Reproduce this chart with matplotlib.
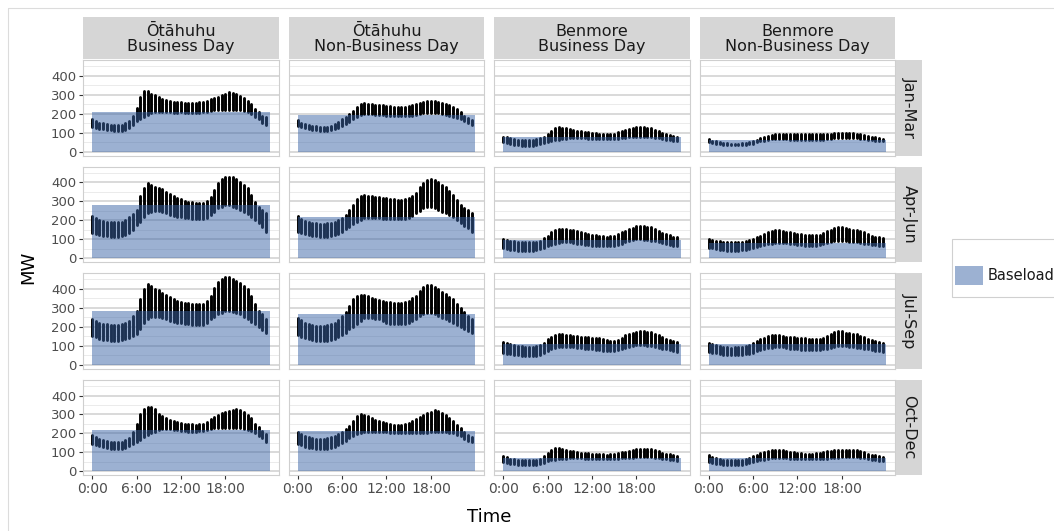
import matplotlib
matplotlib.use('Agg')
import matplotlib.pyplot as plt
from matplotlib.patches import Rectangle
from matplotlib.transforms import Affine2D
import numpy as np

W, H = 1054, 531

# ---- labels ----
sites = ['Ōtāhuhu', 'Benmore']
day_types = ['Business Day', 'Non-Business Day']
quarters = ['Jan-Mar', 'Apr-Jun', 'Jul-Sep', 'Oct-Dec']
hours = np.arange(48) / 2.0          # half-hourly trading periods
x_ticks = [0, 6, 12, 18]
x_tick_labels = ['0:00', '6:00', '12:00', '18:00']
y_ticks = [0, 100, 200, 300, 400]
y_minor = [50, 150, 250, 350, 450]

# ---- baseload (MW) per quarter ----
baseload_ota_bd = [210, 282, 285, 218]
baseload_ota_nbd = [195, 215, 266, 211]
baseload_ben_bd = [74, 97, 111, 70]
baseload_ben_nbd = [62, 79, 107, 70]

# ---- half-hourly demand envelope (min / max over days), MW ----
ota_bd_q1_hi = [171, 160, 153, 148, 144, 141, 139, 139, 141, 148, 162, 185, 232, 289, 317, 320, 306, 299, 289, 276, 271, 266, 262, 260,
                259, 258, 258, 257, 257, 259, 262, 268, 275, 282, 289, 296, 303, 313, 310, 303, 294, 285, 268, 250, 224, 206, 188, 180]
ota_bd_q1_lo = [127, 124, 121, 117, 113, 111, 109, 109, 109, 112, 123, 140, 162, 171, 183, 194, 201, 206, 210, 208, 207, 206, 205, 205,
                206, 204, 202, 202, 201, 203, 206, 211, 215, 217, 218, 219, 220, 220, 220, 219, 218, 214, 206, 200, 183, 171, 153, 139]
ota_nbd_q1_hi = [165, 153, 144, 140, 136, 133, 130, 130, 132, 137, 144, 155, 169, 184, 199, 216, 234, 250, 254, 253, 250, 248, 245, 243,
                 241, 239, 236, 236, 236, 237, 239, 244, 250, 256, 262, 266, 268, 268, 262, 256, 250, 243, 236, 222, 206, 190, 176, 165]
ota_nbd_q1_lo = [136, 129, 123, 119, 116, 112, 109, 109, 109, 112, 118, 126, 136, 147, 158, 170, 183, 194, 197, 197, 197, 195, 194, 191,
                 188, 186, 185, 185, 185, 186, 186, 190, 194, 198, 201, 202, 202, 202, 201, 198, 194, 188, 183, 178, 174, 162, 153, 139]
ben_bd_q1_hi = [79, 74, 69, 66, 63, 61, 60, 60, 62, 65, 69, 78, 92, 109, 123, 127, 125, 122, 118, 113, 109, 106, 104, 101,
                99, 97, 95, 93, 92, 93, 95, 102, 109, 114, 118, 123, 127, 130, 129, 126, 123, 115, 106, 99, 92, 87, 83, 79]
ben_bd_q1_lo = [48, 43, 39, 36, 33, 31, 30, 30, 31, 35, 39, 44, 48, 54, 60, 63, 65, 67, 69, 69, 69, 69, 69, 67,
                65, 65, 65, 65, 65, 65, 65, 67, 70, 72, 74, 76, 77, 77, 77, 76, 74, 72, 69, 65, 62, 59, 56, 53]
ben_nbd_q1_hi = [65, 58, 53, 49, 46, 44, 42, 42, 42, 44, 46, 51, 56, 62, 69, 76, 83, 88, 92, 93, 93, 92, 92, 92,
                 92, 92, 92, 91, 91, 90, 90, 92, 93, 95, 97, 99, 100, 100, 99, 97, 95, 92, 88, 84, 79, 75, 70, 65]
ben_nbd_q1_lo = [51, 46, 42, 38, 35, 33, 32, 32, 32, 33, 35, 38, 42, 48, 53, 58, 62, 64, 65, 65, 65, 64, 63, 62,
                 62, 62, 62, 62, 62, 62, 62, 63, 65, 67, 69, 70, 70, 70, 70, 70, 69, 67, 65, 62, 60, 58, 56, 53]

ota_bd_q2_hi = [222, 210, 201, 196, 192, 190, 188, 189, 192, 200, 215, 232, 254, 327, 368, 394, 386, 377, 372, 363, 350, 338, 327, 318,
                310, 304, 298, 295, 292, 290, 289, 300, 324, 359, 394, 415, 426, 430, 426, 415, 403, 385, 368, 333, 298, 271, 254, 236]
ota_bd_q2_lo = [134, 127, 121, 118, 116, 114, 113, 113, 116, 122, 130, 150, 174, 192, 218, 236, 245, 248, 248, 242, 236, 230, 224, 219,
                215, 212, 210, 207, 204, 204, 204, 214, 227, 245, 262, 272, 280, 280, 271, 262, 254, 243, 232, 216, 201, 183, 166, 139]
ota_nbd_q2_hi = [222, 208, 197, 191, 187, 183, 180, 181, 183, 187, 192, 200, 210, 230, 254, 280, 310, 327, 331, 330, 327, 324, 320, 318,
                 315, 312, 310, 308, 306, 310, 315, 328, 342, 377, 398, 412, 415, 412, 400, 386, 373, 353, 333, 305, 280, 266, 254, 236]
ota_nbd_q2_lo = [139, 132, 127, 122, 118, 115, 113, 113, 113, 116, 121, 129, 139, 152, 165, 178, 192, 202, 210, 210, 210, 210, 210, 208,
                 206, 205, 204, 204, 204, 206, 210, 222, 236, 250, 262, 268, 271, 265, 254, 246, 239, 228, 218, 202, 187, 172, 157, 139]
ben_bd_q2_hi = [100, 96, 92, 89, 86, 84, 83, 83, 83, 87, 92, 104, 118, 136, 148, 153, 153, 152, 150, 146, 141, 136, 130, 127,
                123, 120, 118, 116, 114, 116, 118, 127, 136, 145, 153, 160, 167, 171, 169, 166, 162, 153, 144, 135, 127, 120, 114, 109]
ben_bd_q2_lo = [53, 48, 44, 41, 39, 37, 35, 35, 35, 41, 48, 56, 65, 71, 77, 80, 83, 83, 83, 80, 77, 74, 70, 67,
                65, 63, 62, 62, 62, 63, 65, 71, 77, 85, 92, 96, 100, 99, 97, 95, 92, 88, 83, 78, 74, 70, 65, 62]
ben_nbd_q2_hi = [100, 96, 92, 89, 86, 84, 83, 83, 83, 85, 88, 94, 100, 109, 118, 127, 136, 142, 148, 148, 144, 140, 136, 131,
                 127, 125, 123, 122, 121, 122, 123, 132, 141, 150, 158, 162, 162, 158, 153, 150, 148, 142, 136, 127, 118, 113, 109, 104]
ben_nbd_q2_lo = [56, 52, 48, 45, 42, 40, 39, 39, 39, 41, 44, 48, 53, 59, 65, 70, 74, 77, 79, 79, 79, 78, 77, 74,
                 70, 67, 65, 65, 65, 66, 67, 73, 79, 84, 88, 90, 92, 89, 86, 84, 83, 80, 77, 74, 70, 67, 65, 62]

ota_bd_q3_hi = [243, 232, 222, 217, 213, 210, 208, 209, 213, 220, 231, 255, 283, 349, 398, 424, 415, 401, 394, 380, 366, 355, 345, 338,
                331, 327, 324, 321, 319, 319, 319, 336, 363, 407, 437, 451, 465, 465, 454, 442, 430, 415, 398, 363, 319, 283, 266, 243]
ota_bd_q3_lo = [151, 144, 137, 133, 130, 127, 125, 125, 128, 134, 143, 150, 160, 187, 222, 243, 254, 254, 252, 246, 239, 232, 225, 221,
                218, 215, 213, 210, 208, 208, 208, 222, 239, 252, 266, 275, 283, 283, 278, 272, 266, 252, 239, 226, 213, 198, 183, 165]
ota_nbd_q3_hi = [248, 234, 222, 215, 210, 206, 204, 205, 208, 214, 222, 238, 257, 278, 310, 345, 363, 370, 368, 361, 354, 348, 342, 336,
                 331, 329, 327, 327, 327, 331, 336, 350, 363, 389, 412, 419, 419, 412, 401, 386, 371, 358, 345, 322, 301, 280, 257, 239]
ota_nbd_q3_lo = [155, 146, 139, 134, 130, 127, 125, 125, 125, 129, 134, 144, 155, 170, 187, 200, 213, 232, 248, 246, 245, 242, 239, 230,
                 222, 217, 213, 213, 213, 217, 222, 232, 243, 255, 266, 271, 275, 266, 257, 248, 239, 230, 222, 211, 201, 190, 178, 165]
ben_bd_q3_hi = [120, 113, 107, 103, 99, 97, 95, 95, 95, 98, 102, 116, 134, 148, 157, 160, 160, 158, 157, 154, 151, 148, 146, 144,
                143, 141, 139, 134, 130, 127, 125, 130, 143, 155, 164, 169, 174, 178, 176, 175, 173, 164, 155, 144, 134, 129, 125, 120]
ben_bd_q3_lo = [63, 59, 55, 52, 49, 47, 46, 46, 46, 48, 51, 60, 72, 81, 90, 93, 95, 94, 93, 92, 90, 88, 85, 83,
                81, 79, 76, 74, 72, 72, 72, 76, 81, 88, 95, 99, 102, 102, 102, 100, 99, 95, 90, 85, 81, 76, 72, 67]
ben_nbd_q3_hi = [116, 110, 104, 99, 95, 92, 90, 91, 93, 96, 99, 106, 113, 123, 134, 143, 151, 158, 158, 155, 151, 148, 146, 144,
                 143, 141, 139, 136, 134, 134, 134, 142, 151, 162, 173, 178, 176, 170, 165, 162, 160, 153, 146, 138, 130, 125, 120, 116]
ben_nbd_q3_lo = [67, 63, 60, 56, 53, 51, 49, 49, 49, 52, 55, 59, 63, 70, 76, 81, 86, 90, 93, 92, 92, 88, 85, 83,
                 81, 79, 77, 77, 77, 77, 77, 81, 85, 90, 95, 97, 99, 97, 95, 93, 90, 88, 85, 81, 76, 74, 72, 69]

ota_bd_q4_hi = [192, 181, 171, 164, 158, 155, 153, 154, 157, 164, 174, 206, 250, 303, 329, 342, 338, 329, 303, 290, 280, 271, 264, 259,
                255, 252, 250, 248, 246, 248, 250, 262, 276, 287, 298, 307, 315, 320, 326, 329, 324, 315, 298, 280, 250, 232, 215, 197]
ota_bd_q4_lo = [144, 138, 132, 126, 121, 119, 118, 118, 118, 124, 132, 142, 153, 167, 180, 192, 202, 210, 218, 222, 224, 222, 220, 218,
                215, 212, 209, 209, 209, 212, 215, 220, 224, 226, 227, 228, 229, 229, 229, 228, 227, 224, 220, 211, 202, 188, 174, 153]
ota_nbd_q4_hi = [210, 199, 188, 181, 176, 173, 171, 172, 174, 179, 185, 195, 206, 222, 241, 268, 294, 303, 298, 290, 280, 272, 264, 258,
                 253, 249, 246, 246, 246, 249, 253, 264, 276, 287, 298, 307, 315, 322, 317, 308, 298, 283, 268, 247, 227, 209, 192, 180]
ota_nbd_q4_lo = [144, 137, 130, 125, 121, 119, 118, 118, 118, 124, 130, 139, 148, 161, 174, 186, 197, 204, 209, 209, 209, 209, 209, 207,
                 206, 204, 202, 202, 202, 202, 202, 202, 202, 202, 202, 204, 206, 206, 206, 206, 206, 204, 202, 194, 185, 173, 162, 153]
ben_bd_q4_hi = [79, 73, 67, 64, 62, 60, 58, 58, 58, 62, 67, 80, 97, 114, 123, 123, 120, 114, 109, 105, 102, 99, 97, 95,
                93, 92, 92, 90, 88, 90, 92, 96, 100, 104, 109, 114, 118, 120, 120, 119, 118, 112, 106, 99, 93, 89, 85, 79]
ben_bd_q4_lo = [48, 44, 40, 37, 35, 33, 32, 32, 32, 35, 39, 46, 53, 58, 62, 64, 65, 67, 70, 70, 70, 68, 67, 67,
                67, 66, 65, 65, 65, 65, 65, 67, 69, 70, 70, 72, 74, 74, 74, 74, 74, 72, 70, 67, 65, 62, 58, 55]
ben_nbd_q4_hi = [85, 77, 70, 66, 62, 60, 58, 58, 58, 62, 65, 72, 79, 88, 97, 103, 109, 112, 114, 114, 111, 107, 102, 100,
                 97, 95, 93, 92, 92, 95, 97, 102, 106, 109, 111, 113, 114, 114, 114, 113, 111, 106, 100, 94, 88, 84, 79, 76]
ben_nbd_q4_lo = [48, 44, 40, 37, 35, 33, 32, 32, 32, 35, 39, 44, 48, 53, 58, 62, 65, 68, 70, 70, 70, 68, 67, 67,
                 67, 67, 67, 67, 67, 67, 67, 67, 67, 68, 70, 72, 74, 74, 74, 74, 74, 71, 69, 65, 62, 59, 56, 53]

# panel lookup: rows = quarters, cols = (site, day type)
profiles = [
    [(ota_bd_q1_lo, ota_bd_q1_hi), (ota_nbd_q1_lo, ota_nbd_q1_hi), (ben_bd_q1_lo, ben_bd_q1_hi), (ben_nbd_q1_lo, ben_nbd_q1_hi)],
    [(ota_bd_q2_lo, ota_bd_q2_hi), (ota_nbd_q2_lo, ota_nbd_q2_hi), (ben_bd_q2_lo, ben_bd_q2_hi), (ben_nbd_q2_lo, ben_nbd_q2_hi)],
    [(ota_bd_q3_lo, ota_bd_q3_hi), (ota_nbd_q3_lo, ota_nbd_q3_hi), (ben_bd_q3_lo, ben_bd_q3_hi), (ben_nbd_q3_lo, ben_nbd_q3_hi)],
    [(ota_bd_q4_lo, ota_bd_q4_hi), (ota_nbd_q4_lo, ota_nbd_q4_hi), (ben_bd_q4_lo, ben_bd_q4_hi), (ben_nbd_q4_lo, ben_nbd_q4_hi)],
]
baselines = [baseload_ota_bd, baseload_ota_nbd, baseload_ben_bd, baseload_ben_nbd]
col_titles = [f'{s}\n{d}' for s in sites for d in day_types]

BASE_COLOR = '#3a64a6'
BASE_ALPHA = 0.5
STRIP_COLOR = '#d6d6d6'
TEXT_DARK = '#1a1a1a'

fig = plt.figure(figsize=(W / 100, H / 100), dpi=100)
pix = Affine2D().scale(1 / W, -1 / H).translate(0, 1) + fig.transFigure


def box(x, y, w, h):
    # pixel box with top-left origin -> figure fraction rect
    return [x / W, 1 - (y + h) / H, w / W, h / H]


# outer frame (partly cropped in the original)
fig.patches.append(Rectangle((8, 8), W, H, transform=pix, fill=False,
                             edgecolor='#dcdcdc', lw=0.8))

col_x = [83.2, 288.7, 494.2, 699.7]
row_y = [60.0, 166.6, 273.2, 379.8]
pw, ph = 195.5, 95.5

for r, quarter in enumerate(quarters):
    for c in range(4):
        ax = fig.add_axes(box(col_x[c], row_y[r], pw, ph))
        ax.set_facecolor('white')
        lo, hi = profiles[r][c]
        ax.vlines(hours, lo, hi, colors='black', lw=2.1, capstyle='round', zorder=2)
        ax.add_patch(Rectangle((0, 0), 24, baselines[c][r], facecolor=BASE_COLOR,
                               alpha=BASE_ALPHA, lw=0, zorder=3))
        ax.set_xlim(-1.2, 25.2)
        ax.set_ylim(-21, 483)
        ax.set_yticks(y_ticks)
        ax.set_yticks(y_minor, minor=True)
        ax.set_xticks(x_ticks)
        ax.grid(axis='y', which='major', color='#d0d0d0', lw=1.1, zorder=0)
        ax.grid(axis='y', which='minor', color='#ebebeb', lw=0.7, zorder=0)
        ax.set_axisbelow(True)
        for sp in ax.spines.values():
            sp.set_color('#cfcfcf')
            sp.set_linewidth(0.8)
        ax.tick_params(which='minor', length=0)
        ax.tick_params(which='major', length=3, width=0.8, color='#333333',
                       labelcolor='#4d4d4d', pad=2)
        ax.tick_params(axis='y', labelsize=9.5)
        ax.tick_params(axis='x', labelsize=10)
        if c == 0:
            ax.set_yticklabels([str(v) for v in y_ticks])
        else:
            ax.tick_params(axis='y', length=0, labelleft=False)
        if r == 3:
            ax.set_xticklabels(x_tick_labels)
        else:
            ax.tick_params(axis='x', length=0, labelbottom=False)

        # right-hand strip
        if c == 3:
            fig.patches.append(Rectangle((col_x[c] + pw + 1, row_y[r]), 25.5, ph,
                                         transform=pix, facecolor=STRIP_COLOR, lw=0))
            fig.text(col_x[c] + pw + 1 + 12.75, row_y[r] + ph / 2, quarter, transform=pix,
                     rotation=-90, ha='center', va='center', fontsize=11.5, color=TEXT_DARK)

# top strips
for c, title in enumerate(col_titles):
    fig.patches.append(Rectangle((col_x[c], 17.3), pw, 42.2, transform=pix,
                                 facecolor=STRIP_COLOR, lw=0))
    fig.text(col_x[c] + pw / 2, 17.3 + 21.5, title, transform=pix, ha='center', va='center',
             fontsize=11.5, color=TEXT_DARK, linespacing=1.0)

# axis titles
fig.text(28, (row_y[0] + row_y[3] + ph) / 2, 'MW', transform=pix, rotation=90,
         ha='center', va='center', fontsize=13, color='black')
fig.text((col_x[0] + col_x[3] + pw) / 2, 517, 'Time', transform=pix,
         ha='center', va='center', fontsize=13, color='black')

# legend
fig.patches.append(Rectangle((952, 239), 120, 58, transform=pix, facecolor='white',
                             edgecolor='#d0d0d0', lw=0.8))
fig.patches.append(Rectangle((954.5, 265.5), 28.5, 19.5, transform=pix,
                             facecolor=BASE_COLOR, alpha=BASE_ALPHA, lw=0))
fig.text(988, 275.5, 'Baseload', transform=pix, ha='left', va='center',
         fontsize=10.5, color=TEXT_DARK)

fig.savefig('out.png', dpi=100)
